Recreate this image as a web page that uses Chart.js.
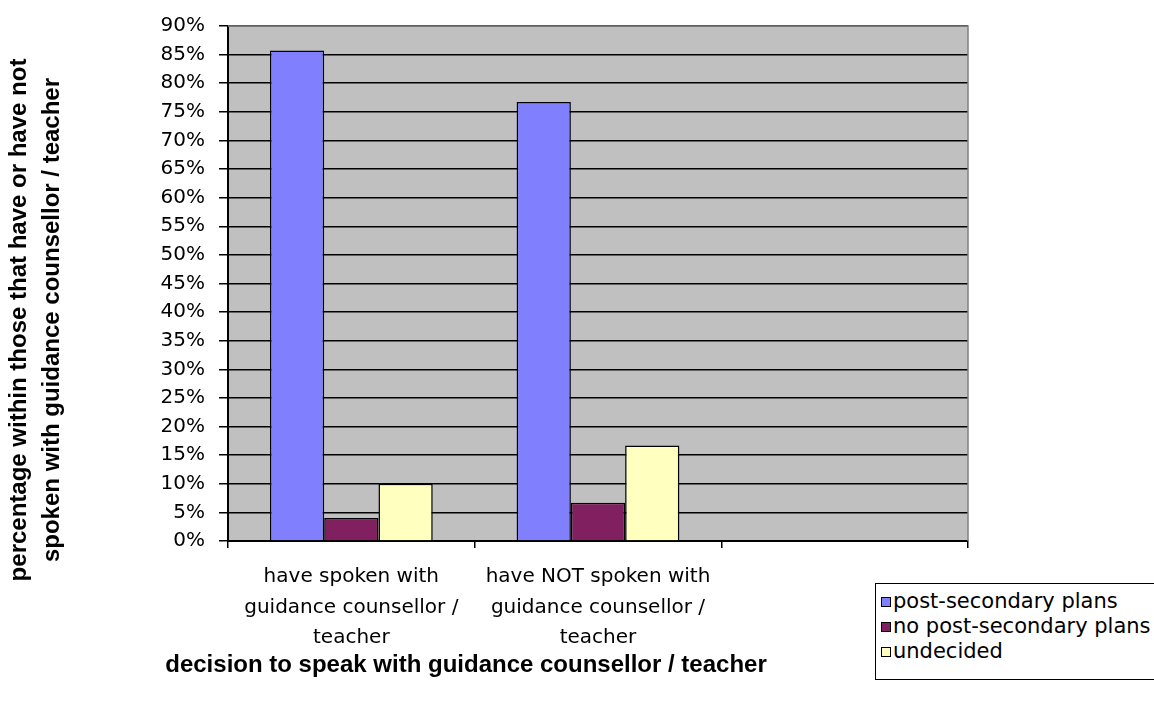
<!DOCTYPE html>
<html>
<head>
<meta charset="utf-8">
<script src="https://cdn.jsdelivr.net/npm/chart.js@4.4.1/dist/chart.umd.min.js"></script>
<style>
  body { margin: 0; background: #fff; overflow: hidden; }
  #wrap { position: relative; width: 1154px; height: 705px; }
  #legend {
    position: absolute; left: 875px; top: 583px; width: 300px; height: 97px;
    border: 1px solid #000; background: #fff; box-sizing: border-box;
    font-family: "DejaVu Sans", sans-serif; font-size: 21px; color: #000;
    padding-top: 5px;
  }
  #legend div { height: 25px; line-height: 25px; white-space: nowrap; }
  #legend span.sw {
    display: inline-block; width: 8px; height: 8px; border: 1px solid #000;
    margin-left: 5px; margin-right: 2px; vertical-align: 1px;
  }
</style>
</head>
<body>
<div id="wrap">
  <canvas id="chart" width="1154" height="705"></canvas>
  <div id="legend"></div>
</div>
<script>
// categories (third slot is empty in the original sheet)
const categories = [
  ["have spoken with", "guidance counsellor /", "teacher"],
  ["have NOT spoken with", "guidance counsellor /", "teacher"],
  ""
];
const seriesNames = ["post-secondary plans", "no post-secondary plans", "undecided"];
const postSecondary = [85.7, 76.7, null];
const noPostSecondary = [4.0, 6.7, null];
const undecided = [10.0, 16.7, null];
const seriesColors = ["#8080ff", "#802060", "#ffffc0"];

const yTitle = ["percentage within those that have or have not", "spoken with guidance counsellor / teacher"];
const xTitle = "decision to speak with guidance counsellor / teacher";

// grey plot background + outline + the two axis titles
const decor = {
  id: "decor",
  beforeDraw(chart) {
    const { ctx, chartArea: a } = chart;
    ctx.save();
    ctx.fillStyle = "#c0c0c0";
    ctx.fillRect(a.left, a.top, a.right - a.left, a.bottom - a.top);
    ctx.restore();
  },
  afterDraw(chart) {
    const { ctx, chartArea: a } = chart;
    ctx.save();
    ctx.strokeStyle = "#808080";
    ctx.lineWidth = 1.5;
    ctx.beginPath();
    ctx.moveTo(a.left, a.top);
    ctx.lineTo(a.right, a.top);
    ctx.lineTo(a.right, a.bottom);
    ctx.stroke();

    ctx.fillStyle = "#000";
    ctx.font = "bold 24px 'Liberation Sans', Arial, sans-serif";
    ctx.textAlign = "center";
    ctx.textBaseline = "middle";
    ctx.fillText(xTitle, 466, 665);

    ctx.translate(35, 320);
    ctx.rotate(-Math.PI / 2);
    ctx.fillText(yTitle[0], 0, -16);
    ctx.fillText(yTitle[1], 0, 17);
    ctx.restore();
  }
};

const datasets = [postSecondary, noPostSecondary, undecided].map((d, i) => ({
  label: seriesNames[i],
  data: d,
  backgroundColor: seriesColors[i],
  borderColor: "#000",
  borderWidth: 1.5,
  barPercentage: 1,
  categoryPercentage: 0.66
}));

new Chart(document.getElementById("chart"), {
  type: "bar",
  data: { labels: categories, datasets: datasets },
  plugins: [decor],
  options: {
    responsive: false,
    animation: false,
    layout: { padding: { top: 26, right: 186, left: 0, bottom: 0 } },
    plugins: {
      legend: { display: false },
      tooltip: { enabled: false }
    },
    scales: {
      x: {
        afterFit(scale) { scale.height = 164; },
        grid: { display: true, drawOnChartArea: false, color: "#000", tickLength: 7, lineWidth: 1.5, offset: true },
        border: { color: "#000", width: 2 },
        ticks: {
          color: "#000",
          font: { family: "DejaVu Sans", size: 20, lineHeight: 1.52 },
          padding: 14,
          maxRotation: 0,
          autoSkip: false
        }
      },
      y: {
        min: 0,
        max: 90,
        afterFit(scale) { scale.width = 228; },
        grid: { color: "#000", lineWidth: 1.5, tickLength: 9 },
        border: { color: "#000", width: 2 },
        ticks: {
          stepSize: 5,
          color: "#000",
          padding: 14,
          font: { family: "DejaVu Sans", size: 20 },
          callback: v => v + "%"
        }
      }
    }
  }
});

// legend built from the same series arrays
document.getElementById("legend").innerHTML = seriesNames
  .map((n, i) => `<div><span class="sw" style="background:${seriesColors[i]}"></span>${n}</div>`)
  .join("");
</script>
</body>
</html>
